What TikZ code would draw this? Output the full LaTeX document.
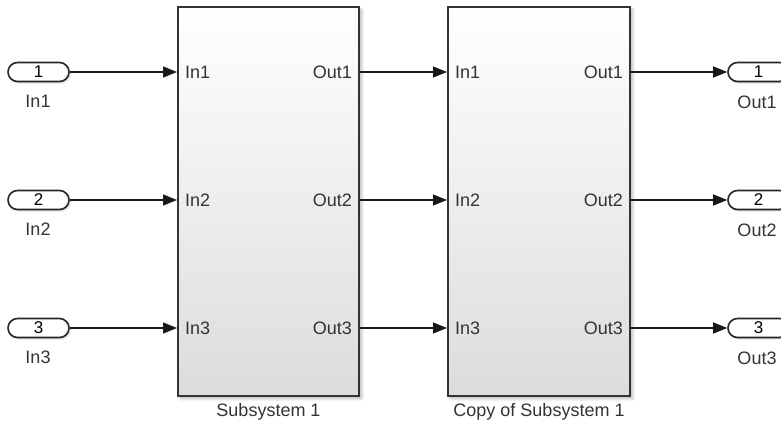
\documentclass[tikz,border=0pt]{standalone}
\usepackage{fontspec}
\setmainfont{Liberation Sans}
\usetikzlibrary{arrows.meta,shadows.blur,calc}
\definecolor{edge}{HTML}{333333}
\definecolor{txt}{HTML}{333333}
\definecolor{bot}{HTML}{DCDCDC}
\tikzset{
  px/.style={x=1pt,y=-1pt},
  blockbox/.style={draw=edge, line width=2pt, minimum width=181pt, minimum height=389pt,
    top color=white, bottom color=bot, inner sep=0pt,
    blur shadow={shadow xshift=2.5pt, shadow yshift=-2.5pt, shadow blur steps=6, shadow opacity=30, shadow blur radius=3pt}},
  pill/.style={draw=black!85, line width=1.6pt, minimum width=61pt, minimum height=19pt,
    rounded corners=9.5pt, fill=white, inner sep=0pt, font=\fontsize{17}{19}\selectfont,
    blur shadow={shadow xshift=1.2pt, shadow yshift=-1.2pt, shadow blur steps=4, shadow opacity=25, shadow blur radius=1.5pt}},
  lbl/.style={text=txt, inner sep=0pt, font=\fontsize{18}{20}\selectfont},
  sig/.style={line width=1.4pt, draw=black!90, -{Triangle[length=14pt,width=11pt]}},
}
\begin{document}
\begin{tikzpicture}[px]
\useasboundingbox (0,0) rectangle (781,423);
% blocks
\node[blockbox] (sub1) at (268.5,201.5) {};
\node[blockbox, minimum width=182pt] (sub2) at (539,201.5) {};
\node[lbl] (sub1name) at (268.5,412) {Subsystem 1};
\node[lbl] (sub2name) at (539,412) {Copy of Subsystem 1};
% ports and signals
\foreach \i/\y in {1/72,2/200,3/328}{
  \node[pill] (in\i) at (38.5,\y) {\i};
  \node[lbl] (in\i lab) at (38,\y+29) {In\i};
  \node[pill] (out\i) at (758.5,\y) {\i};
  \node[lbl] (out\i lab) at (757,\y+30) {Out\i};
  \node[lbl, anchor=west] (a\i) at (185,\y) {In\i};
  \node[lbl, anchor=east] (b\i) at (352,\y) {Out\i};
  \node[lbl, anchor=west] (c\i) at (455,\y) {In\i};
  \node[lbl, anchor=east] (d\i) at (623,\y) {Out\i};
  \draw[sig] (in\i.east) -- (in\i.east -| sub1.west);
  \draw[sig] (sub1.east |- in\i.east) -- (sub2.west |- in\i.east);
  \draw[sig] (sub2.east |- in\i.east) -- (out\i.west);
}
\end{tikzpicture}
\end{document}
